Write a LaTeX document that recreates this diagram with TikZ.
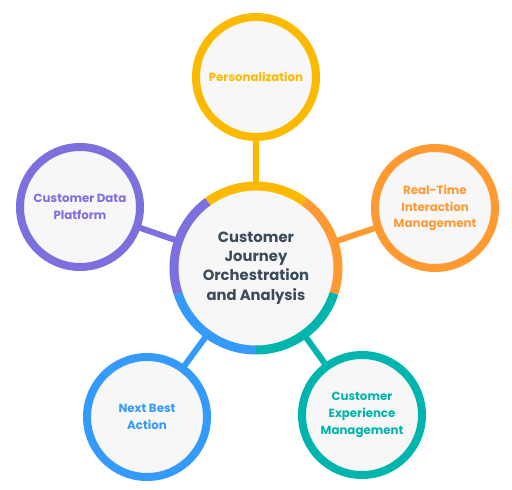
\documentclass[tikz,border=0pt]{standalone}
\usepackage{fontspec}
\setmainfont{Poppins}
\usetikzlibrary{positioning}
\definecolor{ringYellow}{HTML}{FBBA00}
\definecolor{ringOrange}{HTML}{FF9A33}
\definecolor{ringTeal}{HTML}{00B5AD}
\definecolor{ringBlue}{HTML}{359BFB}
\definecolor{ringPurple}{HTML}{7B70DE}
\definecolor{inkSlate}{HTML}{3C4B5B}
\definecolor{discGrey}{HTML}{F7F7F7}

\tikzset{
  sat/.style={circle,draw=#1,line width=8pt,fill=discGrey,minimum size=120pt,
    inner sep=0pt,outer sep=0pt,text=#1,align=center,
    font=\fontsize{11.8}{16.8}\selectfont\bfseries},
  hubdisc/.style={circle,fill=discGrey,minimum size=164pt,inner sep=0pt,outer sep=0pt,
    text=inkSlate,align=center,font=\fontsize{14.8}{19.3}\selectfont\bfseries},
  spoke/.style={line width=6pt,#1}
}

\begin{document}
\begin{tikzpicture}[x=1pt,y=1pt]
  \useasboundingbox (0,0) rectangle (512,-490);
  % hub with five coloured arcs
  \node[hubdisc] (hub) at (256,-268) {Customer\\Journey\\Orchestration\\and Analysis};
  \foreach \mid/\col in {90/ringYellow,18/ringOrange,-54/ringTeal,-126/ringBlue,162/ringPurple}
    \draw[\col,line width=9pt] ([shift={(\mid-36:82)}]hub.center) arc[start angle=\mid-36,end angle=\mid+36,radius=82];
  % satellites
  \node[sat=ringYellow] (pers) at (256,-77) {Personalization};
  \node[sat=ringOrange] (rtim) at (435,-208) {Real-Time\\Interaction\\Management};
  \node[sat=ringTeal] (cxm) at (362,-415) {Customer\\Experience\\Management};
  \node[sat=ringBlue] (nba) at (147,-417) {Next Best\\Action};
  \node[sat=ringPurple] (cdp) at (80,-207) {Customer Data\\Platform};
  % spokes
  \draw[spoke=ringYellow] (hub) -- (pers);
  \draw[spoke=ringOrange] (hub) -- (rtim);
  \draw[spoke=ringTeal] (hub) -- (cxm);
  \draw[spoke=ringBlue] (hub) -- (nba);
  \draw[spoke=ringPurple] (hub) -- (cdp);
\end{tikzpicture}
\end{document}
